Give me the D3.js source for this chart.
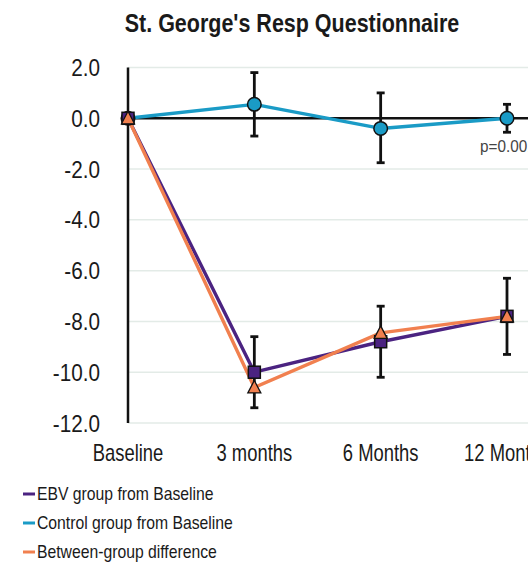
<!DOCTYPE html>
<html>
<head>
<meta charset="utf-8">
<script src="https://cdn.jsdelivr.net/npm/d3@7"></script>
<style>
  html, body { margin: 0; padding: 0; background: #fff; }
  svg { display: block; }
  text { font-family: "Liberation Sans", Arial, sans-serif; fill: #1a1a1a; }
</style>
</head>
<body>
<div id="chart"></div>
<script>
// Data
const categories = ['Baseline', '3 months', '6 Months', '12 Months'];
const yTicks = [2, 0, -2, -4, -6, -8, -10, -12];

const controlValues = [0, 0.55, -0.4, 0.0];
const controlLow = [null, -0.7, -1.75, -0.55];
const controlHigh = [null, 1.8, 1.0, 0.55];

const ebvValues = [0, -10.0, -8.8, -7.8];
const ebvLow = [null, -11.4, -10.2, -9.3];
const ebvHigh = [null, -8.6, -7.4, -6.3];

const diffValues = [0, -10.6, -8.45, -7.8];

const legendLabels = ['EBV group from Baseline', 'Control group from Baseline', 'Between-group difference'];
const pLabel = 'p=0.001';

const W = 528, H = 565;
const purple = '#4b2381', blue = '#1a9bc6', orange = '#f1804f';

const svg = d3.select('#chart').append('svg')
  .attr('width', W)
  .attr('height', H);

const x = d3.scalePoint()
  .domain(categories)
  .range([128, 507]);

const y = d3.scaleLinear()
  .domain([-12, 2])
  .range([423, 67.5]);

// title
svg.append('text')
  .attr('transform', 'translate(292,32) scale(0.86,1)')
  .attr('text-anchor', 'middle')
  .attr('font-size', 25)
  .attr('font-weight', 'bold')
  .text("St. George's Resp Questionnaire");

// grid lines
svg.append('g')
  .selectAll('line')
  .data(yTicks)
  .enter()
  .append('line')
  .attr('x1', 128)
  .attr('x2', W)
  .attr('y1', d => y(d))
  .attr('y2', d => y(d))
  .attr('stroke', '#e3ebe7')
  .attr('stroke-width', 1.5);

// y tick labels
svg.append('g')
  .selectAll('text')
  .data(yTicks)
  .enter()
  .append('text')
  .attr('transform', d => `translate(100,${y(d) + 8.5}) scale(0.9,1)`)
  .attr('text-anchor', 'end')
  .attr('font-size', 23)
  .text(d => d.toFixed(1));

// x labels
svg.append('g')
  .selectAll('text')
  .data(categories)
  .enter()
  .append('text')
  .attr('transform', d => `translate(${x(d)},461) scale(0.8,1)`)
  .attr('text-anchor', 'middle')
  .attr('font-size', 23)
  .text(d => d);

// y axis and zero line
svg.append('line')
  .attr('x1', 128).attr('x2', 128)
  .attr('y1', y(2)).attr('y2', y(-12))
  .attr('stroke', '#111').attr('stroke-width', 2.5);

svg.append('line')
  .attr('x1', 128).attr('x2', W)
  .attr('y1', y(0)).attr('y2', y(0))
  .attr('stroke', '#111').attr('stroke-width', 2.5);

// p value
svg.append('text')
  .attr('transform', 'translate(480,152) scale(0.9,1)')
  .attr('font-size', 17)
  .style('fill', '#444')
  .text(pLabel);

const line = d3.line()
  .x((d, i) => x(categories[i]))
  .y(d => y(d));

function drawLine(values, color) {
  svg.append('path')
    .datum(values)
    .attr('d', line)
    .attr('fill', 'none')
    .attr('stroke', color)
    .attr('stroke-width', 3.4)
    .attr('stroke-linejoin', 'round');
}

function drawErrors(low, high) {
  const g = svg.append('g')
    .attr('stroke', '#111')
    .attr('stroke-width', 2.8);
  categories.forEach((c, i) => {
    if (low[i] === null) return;
    const cx = x(c);
    g.append('line').attr('x1', cx).attr('x2', cx).attr('y1', y(low[i])).attr('y2', y(high[i]));
    g.append('line').attr('x1', cx - 4).attr('x2', cx + 4).attr('y1', y(low[i])).attr('y2', y(low[i]));
    g.append('line').attr('x1', cx - 4).attr('x2', cx + 4).attr('y1', y(high[i])).attr('y2', y(high[i]));
  });
}

drawLine(controlValues, blue);
drawLine(ebvValues, purple);
drawLine(diffValues, orange);

drawErrors(controlLow, controlHigh);
drawErrors(ebvLow, ebvHigh);

// markers
svg.append('g')
  .selectAll('circle')
  .data(controlValues)
  .enter()
  .append('circle')
  .attr('cx', (d, i) => x(categories[i]))
  .attr('cy', d => y(d))
  .attr('r', 6.8)
  .attr('fill', blue)
  .attr('stroke', '#111')
  .attr('stroke-width', 1.5);

svg.append('g')
  .selectAll('rect')
  .data(ebvValues)
  .enter()
  .append('rect')
  .attr('x', (d, i) => x(categories[i]) - 6)
  .attr('y', d => y(d) - 6)
  .attr('width', 12)
  .attr('height', 12)
  .attr('fill', purple)
  .attr('stroke', '#111')
  .attr('stroke-width', 1.5);

svg.append('g')
  .selectAll('path')
  .data(diffValues)
  .enter()
  .append('path')
  .attr('transform', (d, i) => `translate(${x(categories[i])},${y(d)})`)
  .attr('d', 'M0,-7L6.5,5.5L-6.5,5.5Z')
  .attr('fill', orange)
  .attr('stroke', '#111')
  .attr('stroke-width', 1.3);

// legend
const legendColors = [purple, blue, orange];
const legend = svg.append('g')
  .selectAll('g')
  .data(legendLabels)
  .enter()
  .append('g')
  .attr('transform', (d, i) => `translate(23,${494 + i * 29})`);

legend.append('line')
  .attr('x1', 0).attr('x2', 12)
  .attr('stroke', (d, i) => legendColors[i])
  .attr('stroke-width', 3);

legend.append('text')
  .attr('transform', 'translate(14,6) scale(0.9,1)')
  .attr('font-size', 17.5)
  .text(d => d);
</script>
</body>
</html>
